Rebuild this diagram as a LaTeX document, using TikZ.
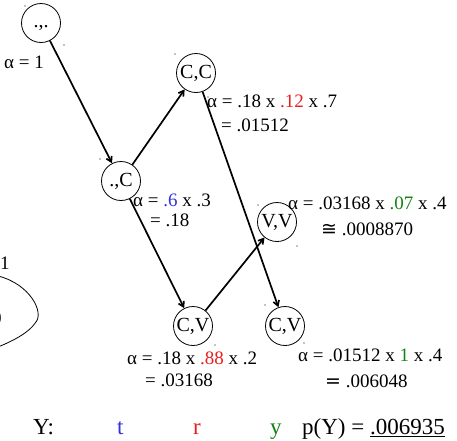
\documentclass[tikz,border=0pt]{standalone}
\usepackage{fontspec}
\usepackage{xcolor}
\setmainfont{Liberation Serif}
\newfontfamily\symfont{DejaVu Sans}
\usetikzlibrary{arrows.meta,positioning}
\definecolor{tblue}{RGB}{50,50,220}
\definecolor{rred}{RGB}{235,30,30}
\definecolor{ygreen}{RGB}{20,130,20}
\tikzset{
  state/.style={draw, circle, thick, minimum size=39pt, inner sep=0pt, font=\fontsize{20}{22}\selectfont},
  trans/.style={-{Straight Barb[length=5pt,width=6pt]}, line width=1.7pt},
  calc/.style={anchor=west, inner sep=0pt, font=\fontsize{19}{21}\selectfont},
  mark dot/.style={fill=black}
}
\begin{document}
\begin{tikzpicture}[x=1pt,y=-1pt]
  \useasboundingbox (0,0) rectangle (457,440);
  % states
  \node[state] (s0) at (41,23) {\raisebox{-4pt}[0pt][0pt]{.,.}};
  \node[state] (sC) at (121,181) {.,C};
  \node[state] (sCC) at (196,73) {C,C};
  \node[state] (sVV) at (277,222) {V,V};
  \node[state] (sCV) at (193,326) {C,V};
  \node[state] (sCV2) at (285,326) {C,V};
  % transitions
  \draw[trans] (s0) -- (sC);
  \draw[trans] (sC) -- (sCC);
  \draw[trans] (sC) -- (sCV);
  \draw[trans] (sCC) -- (sCV2);
  \draw[trans] (sCV) -- (sVV);
  % partial loop at the left edge
  \draw[thick] (-2,276) .. controls (30,284) and (44,312) .. (36,322)
    .. controls (28,334) and (10,342) .. (-2,347);
  \node[calc] (one) at (0,263) {1};
  \node[calc] (zero) at (-8,318) {0};
  % forward values
  \node[calc] (a0) at (4,62) {α = 1};
  \node[calc] (aC) at (133,200) {α = {\color{tblue}.6} x .3};
  \node[calc] (aC2) at (150,220) {= .18};
  \node[calc] (aCC) at (207,101) {α = .18 x {\color{rred}.12} x .7};
  \node[calc] (aCC2) at (221,125) {= .01512};
  \node[calc] (aVV) at (288,203) {α = .03168 x {\color{ygreen}.07} x .4};
  \node[calc] (aVV2) at (321,229) {{\symfont ≅} .0008870};
  \node[calc] (aCV) at (127,358) {α = .18 x {\color{rred}.88} x .2};
  \node[calc] (aCV2) at (145,380) {= .03168};
  \node[calc] (aCV3) at (298,355) {α = .01512 x {\color{ygreen}1} x .4};
  \node[calc] (aCV4) at (325,381) {{\symfont =} .006048};
  % handle dots
  \foreach \p in {(25,6),(64,45),(175,54),(208,97),(100,159),(258,205),(297,246),(215,345),(265,305),(304,343)}
    \fill[mark dot] \p circle (0.7pt);
  % observed string
  \begin{scope}[every node/.style={anchor=base west, inner sep=0pt, font=\fontsize{23}{25}\selectfont}]
    \node (Y) at (33,434) {Y:};
    \node[text=tblue] (t) at (117,434) {t};
    \node[text=rred] (r) at (193,434) {r};
    \node[text=ygreen] (y) at (270,434) {y};
    \node (pY) at (302,434) {p(Y) = \underline{.006935}};
  \end{scope}
\end{tikzpicture}
\end{document}
